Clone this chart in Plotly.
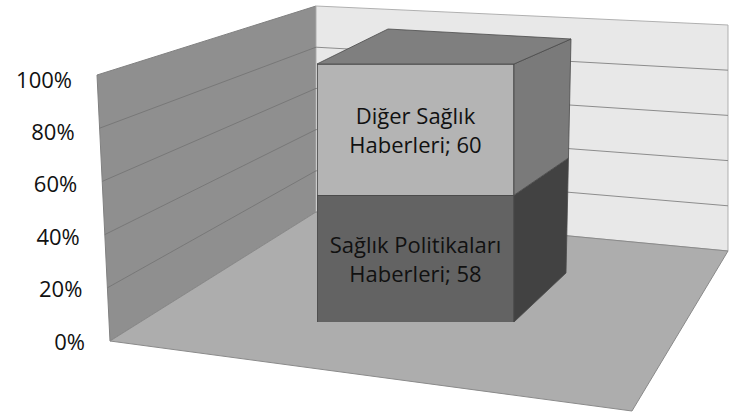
import plotly.graph_objects as go

# ---------------- data ----------------
categories = [""]
series_names = ["Sağlık Politikaları Haberleri", "Diğer Sağlık Haberleri"]
series_labels = ["Sağlık Politikaları<br>Haberleri", "Diğer Sağlık<br>Haberleri"]
series_values = [58, 60]
tick_values = [0, 20, 40, 60, 80, 100]
tick_labels = ["0%", "20%", "40%", "60%", "80%", "100%"]

# ---------------- styling / geometry ----------------
W, H = 730, 413
FONT = "Open Sans"
TEXT_COLOR = "#111111"
front_colors = ["#636363", "#b4b4b4"]
side_colors = ["#424242", "#7a7a7a"]
TOP_COLOR = "#7f7f7f"
EDGE = "#4a4a4a"

BAR_CX, PXU, BAR_W = 415.5, 328.3, 0.6        # category axis scale (px)
BAR_ZERO_PX, BAR_FULL_PX = 322, 64             # bar front plane 0% / 100%
WALL_ZERO_PX, WALL_FULL_PX = 341, 75           # wall front edge 0% / 100%
LAB_ZERO_PX, LAB_FULL_PX = 344, 82             # tick label axis 0% / 100%


def px(x, y):
    return x / W, 1 - y / H


def path(points):
    pts = [px(x, y) for x, y in points]
    return "M " + " L ".join(f"{a:.5f},{b:.5f}" for a, b in pts) + " Z"


def wall_front(v):
    return 97 + 13 * (1 - v / 100), WALL_ZERO_PX - (WALL_ZERO_PX - WALL_FULL_PX) * v / 100


def wall_corner(v):
    return 316, 212 - 2.06 * v


def wall_right(v):
    return 728, 251 - 2.26 * v


shapes = []
# left wall
shapes.append(dict(type="path", path=path([wall_front(100), wall_corner(100), wall_corner(0), wall_front(0)]),
                   fillcolor="#8f8f8f", line=dict(color="#808080", width=1), layer="below",
                   xref="paper", yref="paper"))
# back wall
shapes.append(dict(type="path", path=path([wall_corner(100), wall_right(100), wall_right(0), wall_corner(0)]),
                   fillcolor="#e8e8e8", line=dict(color="#b0b0b0", width=1), layer="below",
                   xref="paper", yref="paper"))
# floor
shapes.append(dict(type="path", path=path([wall_front(0), wall_corner(0), wall_right(0), (632, 411)]),
                   fillcolor="#adadad", line=dict(color="#8a8a8a", width=1), layer="below",
                   xref="paper", yref="paper"))
# gridlines
for v in tick_values[1:-1]:
    a, b, c = wall_front(v), wall_corner(v), wall_right(v)
    shapes.append(dict(type="line", x0=px(*a)[0], y0=px(*a)[1], x1=px(*b)[0], y1=px(*b)[1],
                       xref="paper", yref="paper", line=dict(color="#787878", width=1), layer="below"))
    shapes.append(dict(type="line", x0=px(*b)[0], y0=px(*b)[1], x1=px(*c)[0], y1=px(*c)[1],
                       xref="paper", yref="paper", line=dict(color="#8c8c8c", width=1), layer="below"))

# bar depth faces computed from the stacked percentages
total = sum(series_values)
bar_left = BAR_CX - BAR_W / 2 * PXU
bar_right = BAR_CX + BAR_W / 2 * PXU


def front_y(v):
    return BAR_ZERO_PX - (BAR_ZERO_PX - BAR_FULL_PX) * v / 100


def back_right(v):
    return 566 + 5 * v / 100, 273 - (273 - 39) * v / 100


cum = 0.0
for val, sc in zip(series_values, side_colors):
    v0 = cum
    v1 = cum + val / total * 100
    cum = v1
    shapes.append(dict(type="path",
                       path=path([(bar_right, front_y(v0)), (bar_right, front_y(v1)), back_right(v1), back_right(v0)]),
                       fillcolor=sc, line=dict(color=EDGE, width=0.8), layer="below",
                       xref="paper", yref="paper"))
# top face
shapes.append(dict(type="path",
                   path=path([(bar_left, front_y(100)), (bar_right, front_y(100)), back_right(100), (388, 29)]),
                   fillcolor=TOP_COLOR, line=dict(color=EDGE, width=0.8), layer="below",
                   xref="paper", yref="paper"))

fig = go.Figure()
for name, lab, val, col in zip(series_names, series_labels, series_values, front_colors):
    fig.add_trace(go.Bar(
        x=[0], y=[val], name=name, yaxis="y2", width=BAR_W,
        marker=dict(color=col, line=dict(color=EDGE, width=0.8)),
        text=[f"{lab}; {val}"], textposition="inside", insidetextanchor="middle",
        constraintext="none", textangle=0,
        textfont=dict(family=FONT, size=22, color=TEXT_COLOR),
        hoverinfo="skip",
    ))

# tick labels along the left wall front edge
tick_x = [((72 + 13 * (1 - v / 100)) - BAR_CX) / PXU for v in tick_values]
fig.add_trace(go.Scatter(
    x=tick_x, y=tick_values, mode="text", text=tick_labels, textposition="middle left",
    textfont=dict(family=FONT, size=22, color=TEXT_COLOR), hoverinfo="skip", showlegend=False,
    cliponaxis=False,
))

xr = [(0 - BAR_CX) / PXU, (W - BAR_CX) / PXU]
fig.update_layout(
    width=W, height=H, margin=dict(l=0, r=0, t=0, b=0),
    paper_bgcolor="white", plot_bgcolor="rgba(0,0,0,0)",
    barmode="stack", barnorm="percent", showlegend=False, hovermode=False,
    xaxis=dict(type="linear", range=xr, visible=False, fixedrange=True),
    yaxis=dict(range=[0, 100], domain=[1 - LAB_ZERO_PX / H, 1 - LAB_FULL_PX / H], visible=False),
    yaxis2=dict(range=[0, 100], domain=[1 - BAR_ZERO_PX / H, 1 - BAR_FULL_PX / H], visible=False, anchor="x"),
    shapes=shapes,
    font=dict(family=FONT),
)
fig.write_html("out.html", config={"displayModeBar": False},
               post_script="document.body.style.margin='0';document.body.style.overflow='hidden';")
